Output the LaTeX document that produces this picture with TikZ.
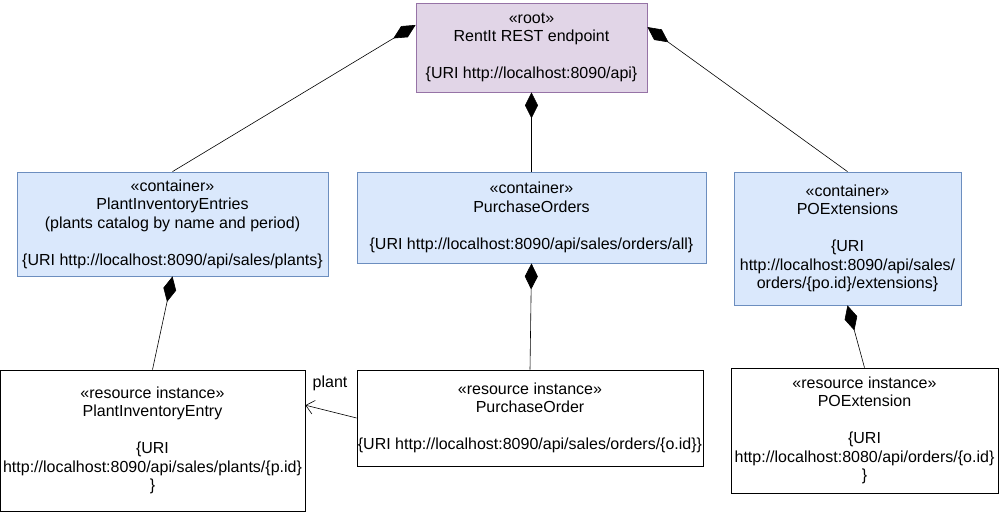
\documentclass[tikz,border=0pt]{standalone}
\usepackage{fontspec}
\setmainfont{Liberation Sans}
\usetikzlibrary{arrows.meta}
\definecolor{rootfill}{HTML}{E1D5E7}
\definecolor{rootline}{HTML}{9673A6}
\definecolor{contfill}{HTML}{DAE8FC}
\definecolor{contline}{HTML}{6C8EBF}

\begin{document}
\begin{tikzpicture}[x=1pt,y=-1pt,
    box/.style={draw, align=center, inner sep=0pt, line width=0.8pt,
      font=\fontsize{16}{18.5}\selectfont},
    rootbox/.style={box, fill=rootfill, draw=rootline},
    contbox/.style={box, fill=contfill, draw=contline},
    resbox/.style={box, fill=white, draw=black},
    compose/.style={{Diamond[length=26pt,width=13pt]}-, line width=0.6pt},
    link/.style={-{Straight Barb[length=8pt,width=14pt]}, line width=0.6pt}]
    \useasboundingbox[fill=white] (0,0) rectangle (1001,512);

    % Root endpoint
    \node[rootbox, minimum width=231pt, minimum height=89pt] (root) at (531.5,47.5)
      {«root»\\RentIt REST endpoint\\[18.5pt]\{URI http://localhost:8090/api\}};

    % Containers
    \node[contbox, minimum width=311pt, minimum height=104pt] (plants) at (172.5,224)
      {«container»\\PlantInventoryEntries\\(plants catalog by name and period)\\[18.5pt]\{URI http://localhost:8090/api/sales/plants\}};
    \node[contbox, minimum width=349pt, minimum height=91pt] (orders) at (531.5,217.5)
      {«container»\\PurchaseOrders\\[18.5pt]\{URI http://localhost:8090/api/sales/orders/all\}};
    \node[contbox, minimum width=227pt, minimum height=133pt] (extensions) at (847.5,238.5)
      {«container»\\POExtensions\\[18.5pt]\{URI\\http://localhost:8090/api/sales/\\orders/\{po.id\}/extensions\}};

    % Resource instances
    \node[resbox, minimum width=305pt, minimum height=141pt] (plant) at (152.5,440.5)
      {«resource instance»\\PlantInventoryEntry\\[18.5pt]\{URI\\http://localhost:8090/api/sales/plants/\{p.id\}\\\}};
    \node[resbox, minimum width=346pt, minimum height=96pt] (order) at (530,418)
      {«resource instance»\\PurchaseOrder\\[18.5pt]\{URI http://localhost:8090/api/sales/orders/\{o.id\}\}};
    \node[resbox, minimum width=267pt, minimum height=125pt] (extension) at (864.5,430.5)
      {«resource instance»\\POExtension\\[18.5pt]\{URI\\http://localhost:8080/api/orders/\{o.id\}\\\}};

    % Composition links
    \draw[compose] (root.169) -- (plants.north);
    \draw[compose] (root.south) -- (orders.north);
    \draw[compose] (root.10) -- (extensions.north);
    \draw[compose] (plants.south) -- (plant.north);
    \draw[compose] (orders.south) -- (order.north);
    \draw[compose] (extensions.south) -- (extension.north);

    % Reference to plant
    \draw[link] (order.west) -- (plant.13);
    \node[font=\fontsize{16}{18}\selectfont] (plantlabel) at (330,383) {plant};
\end{tikzpicture}
\end{document}
